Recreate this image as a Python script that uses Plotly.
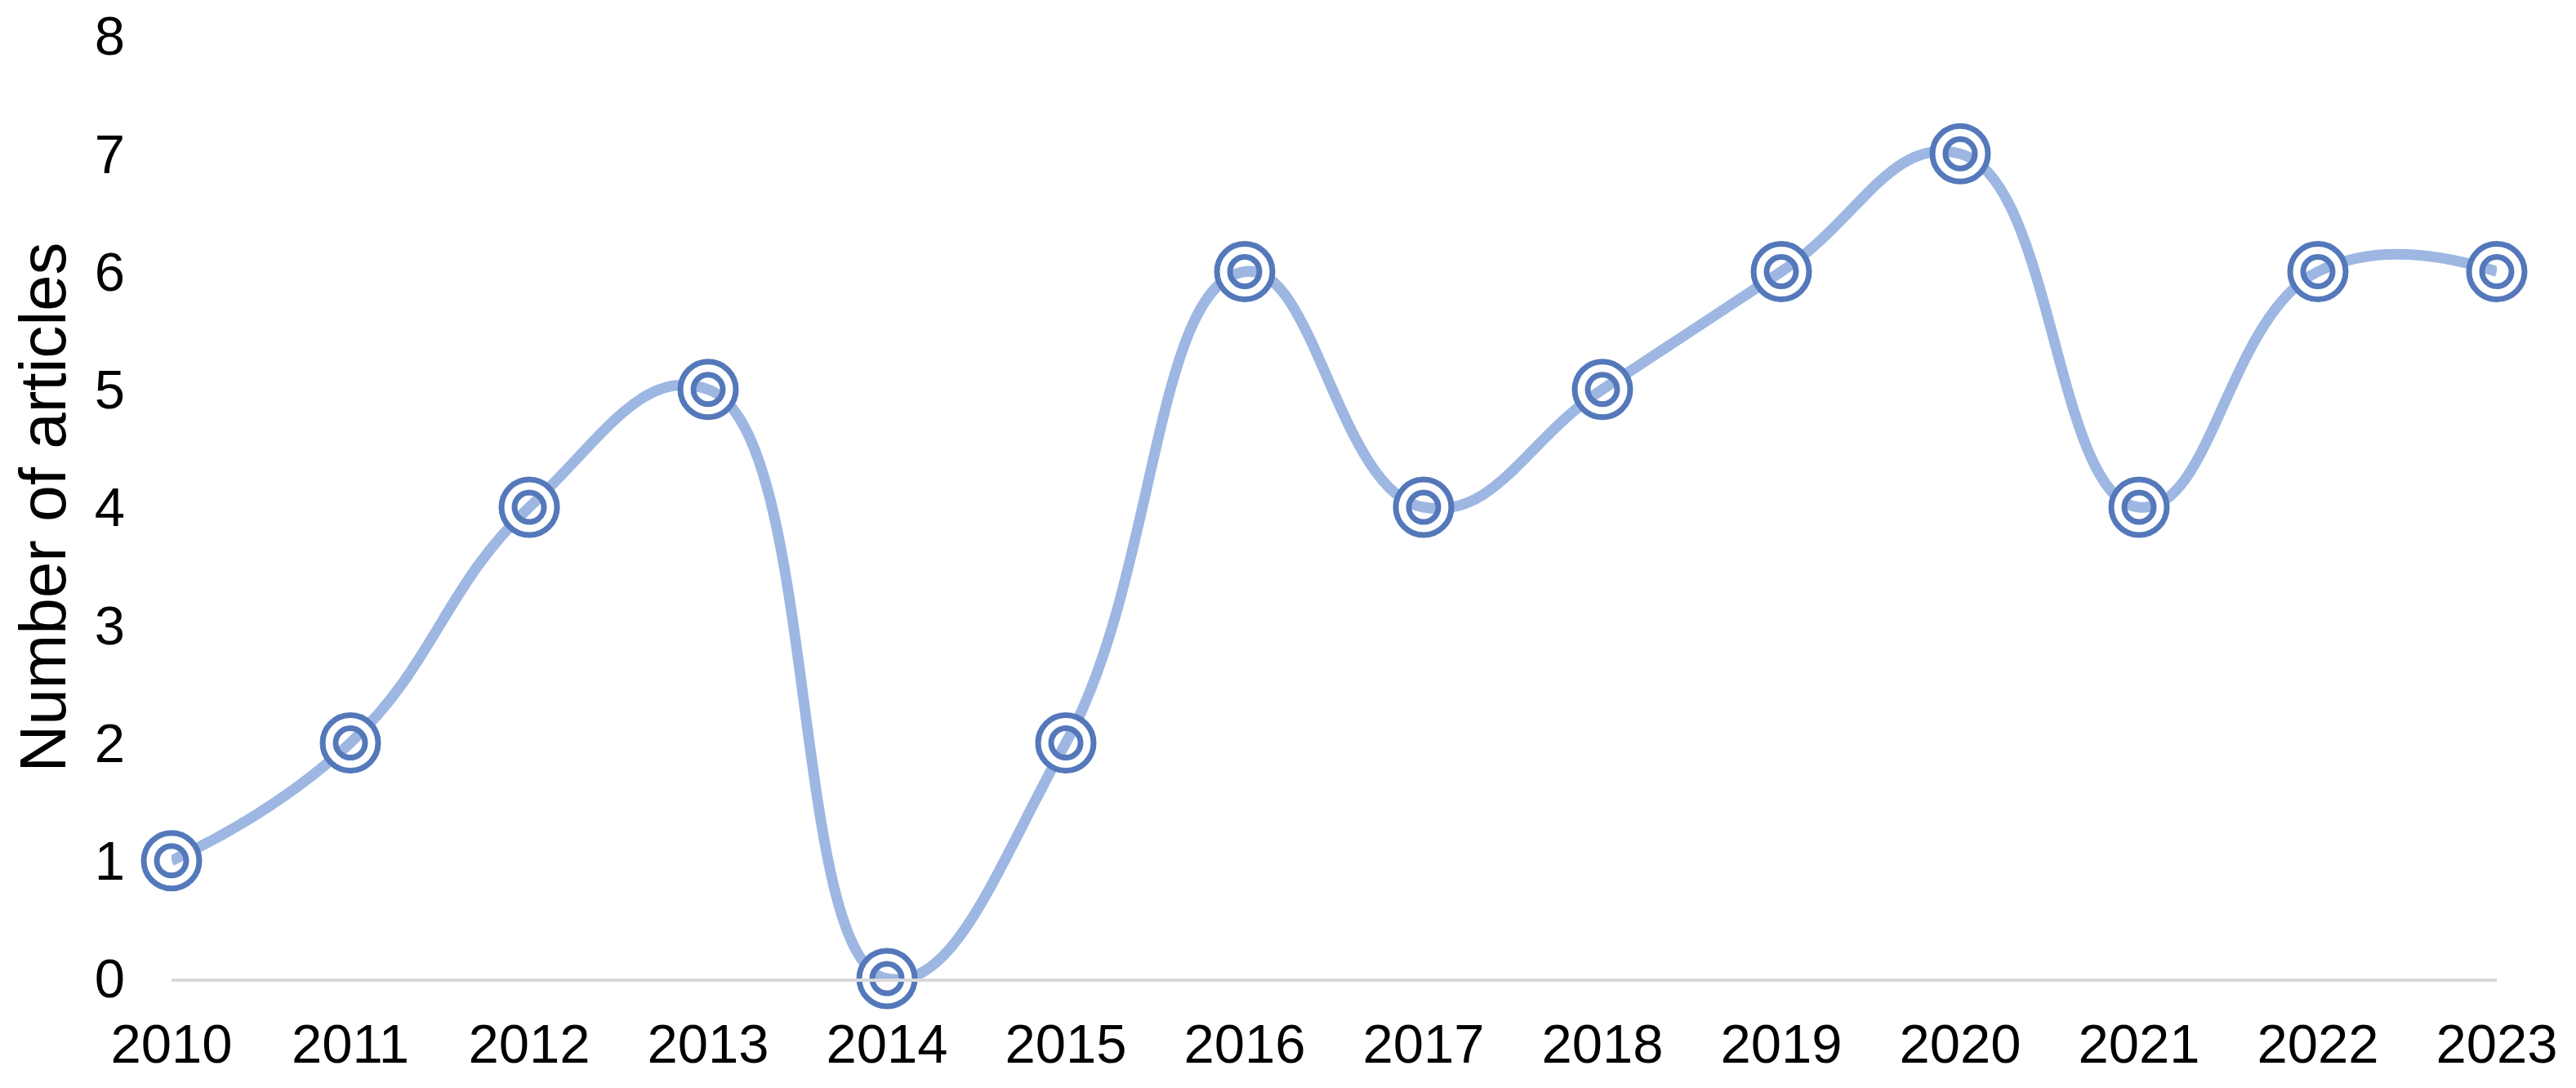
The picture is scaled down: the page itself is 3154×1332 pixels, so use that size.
import plotly.graph_objects as go

years = [2010, 2011, 2012, 2013, 2014, 2015, 2016, 2017, 2018, 2019, 2020, 2021, 2022, 2023]
articles = [1, 2, 4, 5, 0, 2, 6, 4, 5, 6, 7, 4, 6, 6]

line_color = '#9db7e2'
ring_color = '#5478ba'

fig = go.Figure()

# smoothed line
fig.add_trace(go.Scatter(
    x=years, y=articles, mode='lines',
    line=dict(color=line_color, width=13, shape='spline', smoothing=1.3),
    showlegend=False, hoverinfo='skip'
))

# white gap between the two rings
fig.add_trace(go.Scatter(
    x=years, y=articles, mode='markers', cliponaxis=False,
    marker=dict(symbol='circle-open', size=52, color='white', line=dict(width=10)),
    showlegend=False, hoverinfo='skip'
))

# outer ring
fig.add_trace(go.Scatter(
    x=years, y=articles, mode='markers', cliponaxis=False,
    marker=dict(symbol='circle-open', size=68, color=ring_color, line=dict(width=7)),
    showlegend=False, hoverinfo='skip'
))

# inner ring
fig.add_trace(go.Scatter(
    x=years, y=articles, mode='markers', cliponaxis=False,
    marker=dict(symbol='circle-open', size=36, color=ring_color, line=dict(width=7)),
    showlegend=False
))

# page body has an 8px margin, so the figure is 8px smaller on each side
fig.update_layout(
    width=3146, height=1324,
    margin=dict(l=202, r=97, t=36, b=134),
    plot_bgcolor='white', paper_bgcolor='white',
    font=dict(family='Liberation Sans, Arial, sans-serif', size=67, color='black'),
    xaxis=dict(
        range=[2010, 2023], tickmode='array', tickvals=years,
        ticktext=[str(y) for y in years],
        showgrid=False, zeroline=False, automargin=False,
        showline=True, linecolor='#d9d9d9', linewidth=4,
        ticks='', ticklabelstandoff=19, ticklabeloverflow='allow',
    ),
    yaxis=dict(
        range=[0, 8], dtick=1, showgrid=False, zeroline=False,
        showline=False, ticks='', ticklabelstandoff=56, automargin=False,
        ticklabeloverflow='allow',
        title=dict(text='Number of articles', standoff=37),
    ),
)

fig.write_html('out.html')
